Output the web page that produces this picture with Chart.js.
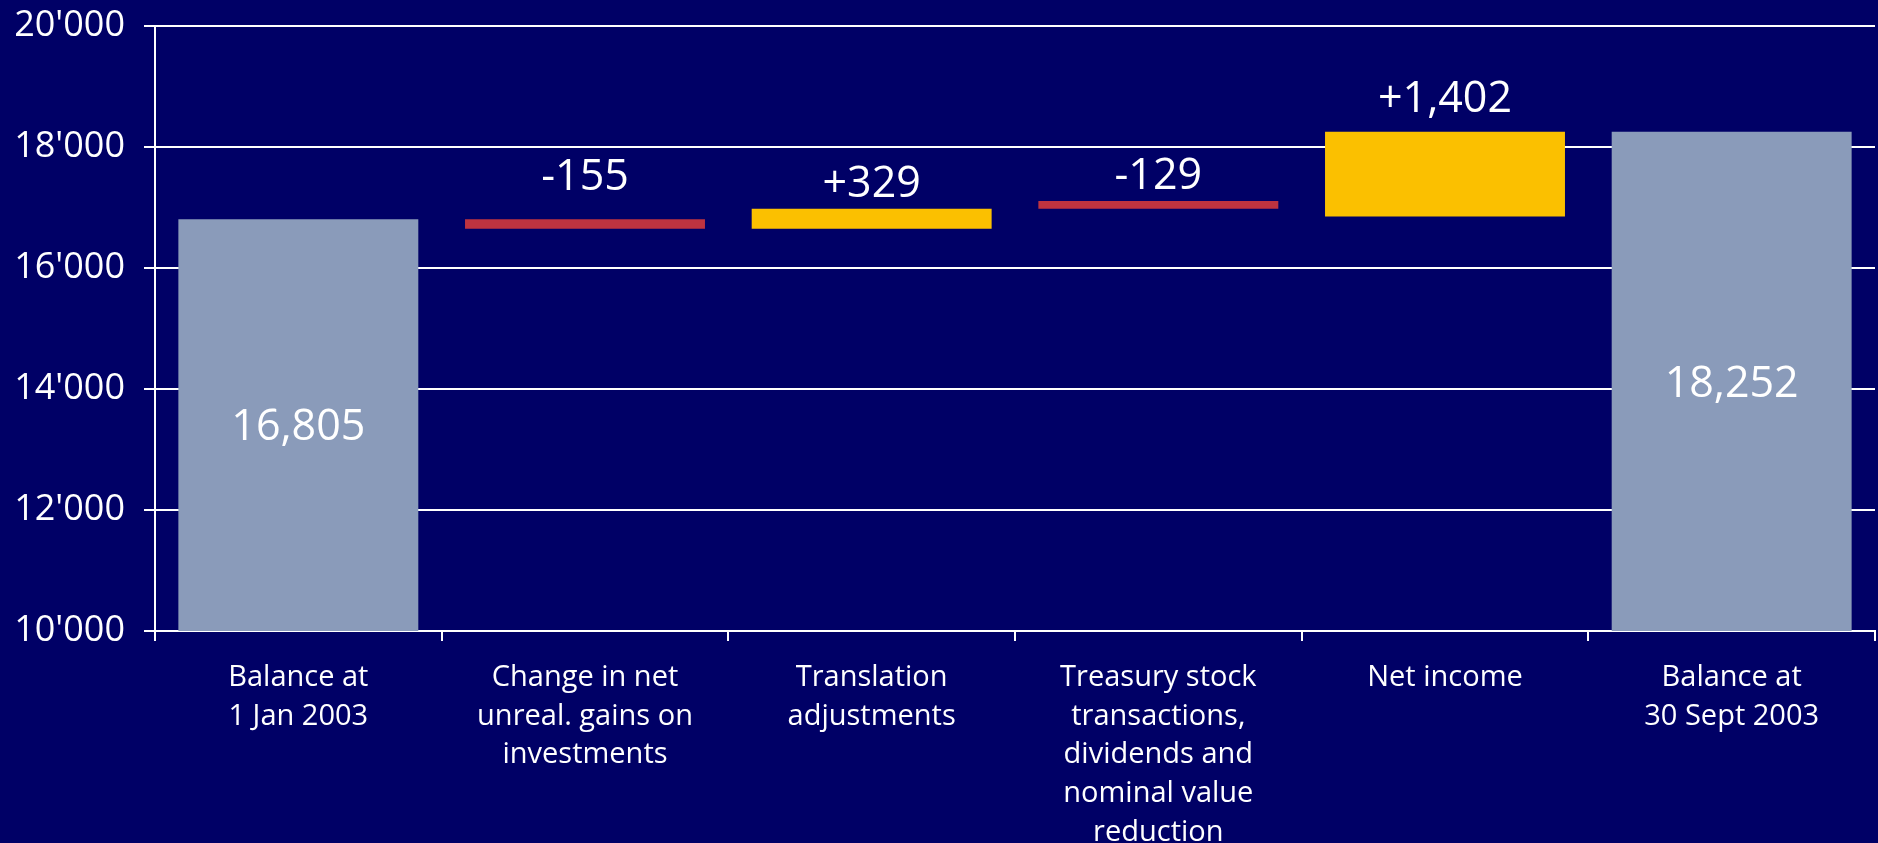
<!DOCTYPE html>
<html>
<head>
<meta charset="utf-8">
<script src="https://cdn.jsdelivr.net/npm/chart.js@4.4.1/dist/chart.umd.min.js"></script>
<style>
  html, body { margin: 0; padding: 0; background: #000066; }
  #wrap { width: 1878px; height: 843px; position: relative; }
</style>
</head>
<body>
<div id="wrap"><canvas id="c" width="1878" height="843"></canvas></div>
<script>
// ---- data ----
const categories = [
  ['Balance at', '1 Jan 2003'],
  ['Change in net', 'unreal. gains on', 'investments'],
  ['Translation', 'adjustments'],
  ['Treasury stock', 'transactions,', 'dividends and', 'nominal value', 'reduction'],
  ['Net income'],
  ['Balance at', '30 Sept 2003']
];
const totals = [16805, null, null, null, null, 18252];
const deltas = [null, -155, 329, -129, 1402, null];
// floating bar ranges as drawn in the picture
const rangeLow  = [null, 16650, 16650, 16979, 16850, null];
const rangeHigh = [null, 16805, 16979, 17108, 18252, null];
const yTickValues = [10000, 12000, 14000, 16000, 18000, 20000];
const yTickLabels = ["10'000", "12'000", "14'000", "16'000", "18'000", "20'000"];

// ---- styling ----
const GREY = '#8A9BBA';
const RED = '#BE3340';
const YELLOW = '#FBC000';
const FONT = "'Open Sans', sans-serif";
const labelGap = [0, 45, 27, 27, 35, 0];

const barData = categories.map((_, i) => totals[i] !== null ? totals[i] : [rangeLow[i], rangeHigh[i]]);
const barColors = categories.map((_, i) => totals[i] !== null ? GREY : (deltas[i] < 0 ? RED : YELLOW));
const fmt = v => v.toLocaleString('en-US');
const valueLabels = categories.map((_, i) => totals[i] !== null ? fmt(totals[i]) : (deltas[i] < 0 ? '-' + fmt(-deltas[i]) : '+' + fmt(deltas[i])));

const valueLabelPlugin = {
  id: 'valueLabels',
  afterDatasetsDraw(chart) {
    const ctx = chart.ctx;
    const area = chart.chartArea;
    const meta = chart.getDatasetMeta(0);
    ctx.save();
    ctx.fillStyle = '#ffffff';
    ctx.font = "43px " + FONT;
    ctx.textAlign = 'center';
    ctx.textBaseline = 'alphabetic';
    const capHalf = 43 * 0.357;
    meta.data.forEach((bar, i) => {
      const top = Math.max(Math.min(bar.y, bar.base), area.top);
      const bottom = Math.min(Math.max(bar.y, bar.base), area.bottom);
      let cy;
      if (totals[i] !== null) cy = (top + bottom) / 2;
      else cy = top - labelGap[i];
      ctx.fillText(valueLabels[i], bar.x, cy + capHalf);
    });
    ctx.restore();
  }
};

new Chart(document.getElementById('c'), {
  type: 'bar',
  data: {
    labels: categories,
    datasets: [{
      data: barData,
      backgroundColor: barColors,
      borderWidth: 0,
      barPercentage: 0.837,
      categoryPercentage: 1.0
    }]
  },
  options: {
    responsive: false,
    animation: false,
    events: [],
    layout: { padding: { top: 26, right: 3, left: 0, bottom: 0 } },
    plugins: { legend: { display: false }, tooltip: { enabled: false } },
    scales: {
      x: {
        offset: true,
        grid: {
          offset: true,
          drawOnChartArea: false,
          drawTicks: true,
          tickLength: 10,
          color: '#ffffff',
          lineWidth: 2
        },
        border: { display: true, color: '#ffffff', width: 2 },
        ticks: {
          color: '#ffffff',
          font: { family: FONT, size: 29, lineHeight: 1.34 },
          padding: 17,
          autoSkip: false,
          maxRotation: 0,
          minRotation: 0
        },
        afterFit(scale) { scale.height = 212; }
      },
      y: {
        min: 10000,
        max: 20000,
        afterBuildTicks(scale) { scale.ticks = yTickValues.map(v => ({ value: v })); },
        grid: {
          color: '#ffffff',
          lineWidth: 2,
          tickLength: 11,
          drawTicks: true
        },
        border: { display: true, color: '#ffffff', width: 2 },
        ticks: {
          color: '#ffffff',
          font: { family: FONT, size: 36 },
          padding: 19,
          callback(value) {
            const idx = yTickValues.indexOf(value);
            return idx >= 0 ? yTickLabels[idx] : '';
          }
        },
        afterFit(scale) {
          scale.width = 155;
          scale.paddingTop = 0;
          scale.paddingBottom = 0;
        }
      }
    }
  },
  plugins: [valueLabelPlugin]
});
</script>
</body>
</html>
